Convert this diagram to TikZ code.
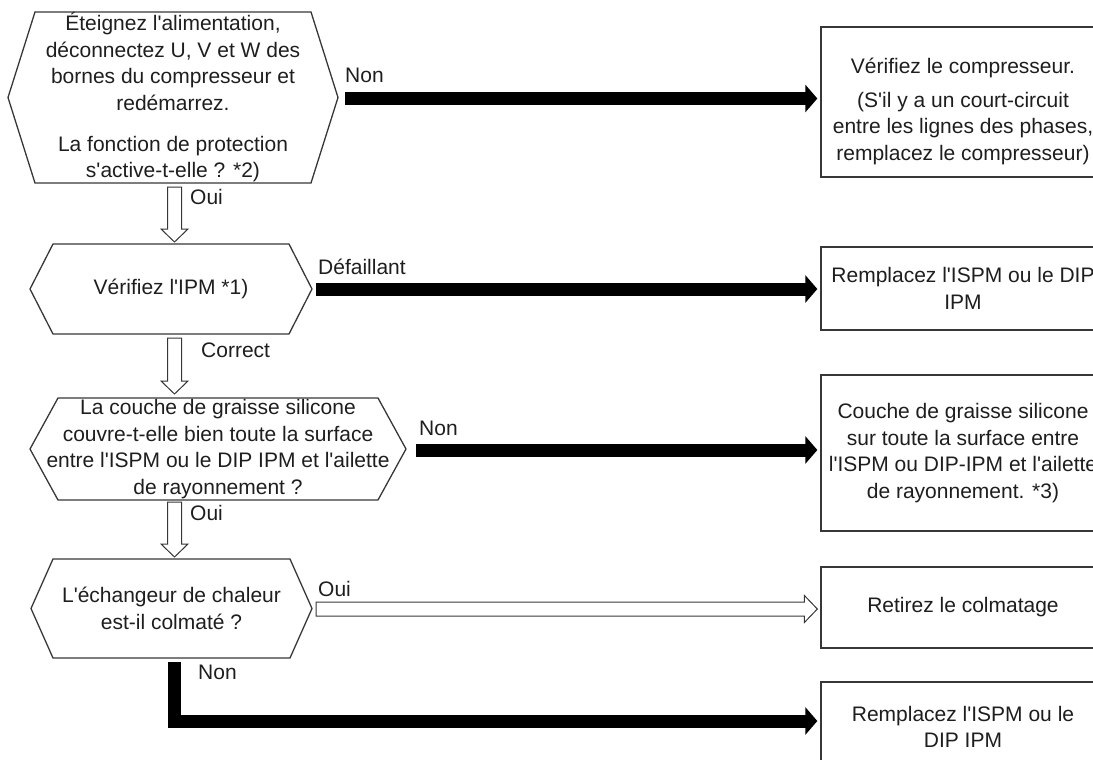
\documentclass[tikz,border=0pt]{standalone}
\usepackage{fontspec}
\setmainfont{Liberation Sans}[Ligatures=TeXOff]
\usepackage{tikz}
\usetikzlibrary{positioning,arrows.meta,calc}
\definecolor{lineclr}{RGB}{55,55,55}
\definecolor{txtclr}{RGB}{30,30,30}
\tikzset{
  hexbox/.style={rectangle,inner sep=0pt,outer sep=0pt,align=center,
                 text=txtclr,font=\fontsize{21}{26.5}\selectfont},
  hexline/.style={draw=lineclr,line width=1.3pt,line join=miter},
  actbox/.style={rectangle,draw=lineclr,line width=1.3pt,fill=white,
                 minimum width=284pt,inner sep=0pt,align=center,
                 text=txtclr,font=\fontsize{21}{26.5}\selectfont},
  lbl/.style={anchor=west,inner sep=0pt,text=txtclr,
              font=\fontsize{21}{26.5}\selectfont},
  thickarr/.style={line width=13pt,-{Triangle[length=12pt,width=27pt]}},
  hollow/.style={draw=lineclr,line width=1pt,fill=white,line join=miter},
}
% hexagon round a decision node, #2 = depth of the side points
\newcommand\hexoutline[2]{%
  \draw[hexline] ($(#1.north west)+(#2,0)$) -- ($(#1.north east)+(-#2,0)$)
    -- (#1.east) -- ($(#1.south east)+(-#2,0)$) -- ($(#1.south west)+(#2,0)$)
    -- (#1.west) -- cycle;}
% outlined block arrow from #1 to #2
\newcommand\hollowarrow[2]{%
  \coordinate (ha-a) at (#1);
  \coordinate (ha-b) at (#2);
  \coordinate (ha-m) at ($(ha-b)!13pt!(ha-a)$);
  \draw[hollow] ($(ha-a)!7pt!90:(ha-b)$) -- ($(ha-m)!7pt!90:(ha-b)$)
    -- ($(ha-m)!13.5pt!90:(ha-b)$) -- (ha-b) -- ($(ha-m)!13.5pt!-90:(ha-b)$)
    -- ($(ha-m)!7pt!-90:(ha-b)$) -- ($(ha-a)!7pt!-90:(ha-b)$) -- cycle;}

\begin{document}
\begin{tikzpicture}[x=1pt,y=-1pt]
\useasboundingbox (0,0) rectangle (1093,760);
\coordinate (spine) at (174.5,0);

% Decisions (left)
\node[hexbox,minimum width=330pt,minimum height=171pt] (h1) at (173,97.5)
  {Éteignez l'alimentation,\\déconnectez U, V et W des\\bornes du compresseur et\\redémarrez.\\[14.5pt]La fonction de protection\\s'active-t-elle ? *2)};
\node[hexbox,minimum width=282pt,minimum height=90pt] (h2) at (171,289)
  {Vérifiez l'IPM *1)};
\node[hexbox,minimum width=376pt,minimum height=102pt] (h3) at (218,449)
  {La couche de graisse silicone\\couvre-t-elle bien toute la surface\\entre l'ISPM ou le DIP IPM et l'ailette\\de rayonnement ?};
\node[hexbox,minimum width=281pt,minimum height=99pt] (h4) at (171.5,608.5)
  {L'échangeur de chaleur\\est-il colmaté ?};
\hexoutline{h1}{27}
\hexoutline{h2}{23}
\hexoutline{h3}{28}
\hexoutline{h4}{22}

% Actions (right)
\node[actbox,minimum height=150pt] (b1) at (963,102)
  {\rule{0pt}{34pt}Vérifiez le compresseur.\\[7.5pt](S'il y a un court-circuit\\entre les lignes des phases,\\remplacez le compresseur)};
\node[actbox,minimum height=83pt] (b2) at (963,288.5)
  {Remplacez l'ISPM ou le DIP\\IPM};
\node[actbox,minimum height=156pt] (b3) at (963,453)
  {Couche de graisse silicone\\sur toute la surface entre\\l'ISPM ou DIP-IPM et l'ailette\\de rayonnement. *3)};
\node[actbox,minimum height=81pt] (b4) at (963,607.5)
  {Retirez le colmatage};
\node[actbox,minimum height=90pt] (b5) at (963,727)
  {Remplacez l'ISPM ou le\\DIP IPM};

% Branch labels
\node[lbl] (n1) at (345,75)  {Non};
\node[lbl] (o1) at (190,197) {Oui};
\node[lbl] (d2) at (318,267) {Défaillant};
\node[lbl] (c2) at (201,350) {Correct};
\node[lbl] (n3) at (419,428) {Non};
\node[lbl] (o3) at (190,513) {Oui};
\node[lbl] (o4) at (318,589) {Oui};
\node[lbl] (n4) at (198,672) {Non};

% Yes-branches down the spine
\hollowarrow{$(h1.south -| spine)+(0,4)$}{$(h2.north -| spine)+(0,-2)$}
\hollowarrow{$(h2.south -| spine)+(0,4)$}{$(h3.north -| spine)+(0,-4)$}
\hollowarrow{$(h3.south -| spine)+(0,2)$}{$(h4.north -| spine)+(0,-2)$}
\hollowarrow{$(h4.east)+(4,0.5)$}{$(h4.east -| b4.west)+(-3,0.5)$}

% Branches out to the actions
\draw[thickarr] ($(h1.east)+(7,1)$) -- ($(h1.east -| b1.west)+(-3,1)$);
\draw[thickarr] ($(h2.east)+(4,0)$) -- ($(h2.east -| b2.west)+(-3,0)$);
\draw[thickarr] ($(h3.east)+(10,1)$) -- ($(h3.east -| b3.west)+(-3,1)$);
\draw[thickarr] ($(h4.south -| spine)+(0,4)$) |- ($(b5.west)+(-3,-6)$);

\end{tikzpicture}
\end{document}
